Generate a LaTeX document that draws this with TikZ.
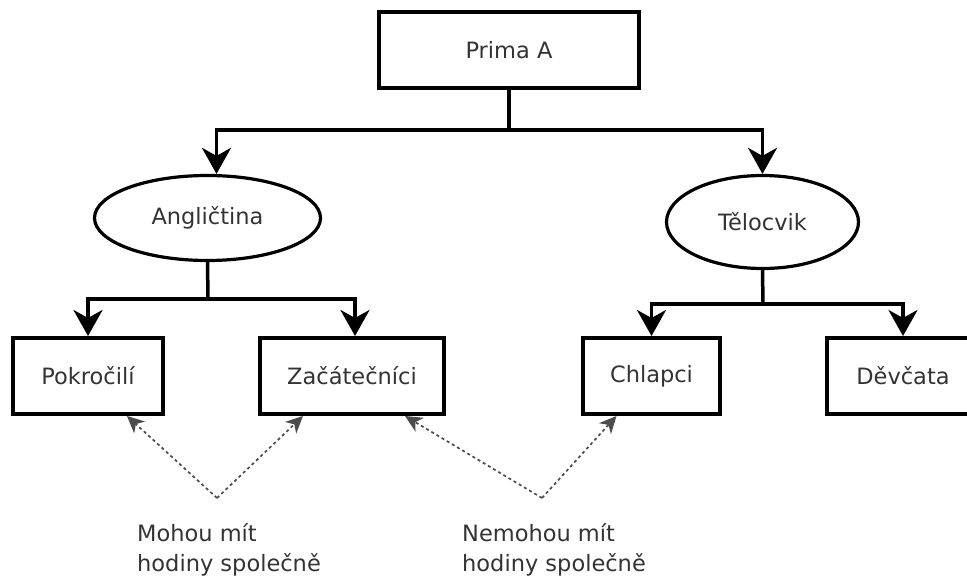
\documentclass[tikz,border=0pt]{standalone}
\usepackage{fontspec}
\setmainfont{DejaVu Sans}
\usetikzlibrary{shapes.geometric,arrows.meta}

\tikzset{
  box/.style={draw, line width=4pt, minimum height=76, inner sep=0pt,
    text=black!80, font=\fontsize{22.5}{27}\selectfont},
  oval/.style={draw, ellipse, line width=3.2pt, inner sep=0pt,
    text=black!80, font=\fontsize{22.5}{27}\selectfont},
  link/.style={line width=3.5pt},
  down/.style={link, -{Stealth[length=26pt, width=29pt, inset=8pt]}},
  hint/.style={black!70, line width=1.7pt, dash pattern=on 3pt off 3pt,
    -{Stealth[length=17pt, width=16pt, inset=5pt]}},
  note/.style={anchor=north west, align=left, inner sep=0pt,
    text=black!80, font=\fontsize{22.5}{30}\selectfont}
}

\begin{document}
\begin{tikzpicture}[x=1pt,y=-1pt]
    \useasboundingbox (0,0) rectangle (967,577);

    % Class
    \node[box, minimum width=260] (prima) at (509,50.5) {Prima A};

    % Subjects
    \node[oval, minimum width=226, minimum height=85] (angl) at (207.5,218) {Angličtina};
    \node[oval, minimum width=192, minimum height=93] (telo) at (762.5,222) {Tělocvik};

    % Groups
    \node[box, minimum width=150] (pokr) at (88,376) {Pokročilí};
    \node[box, minimum width=184] (zac) at (352,376) {Začátečníci};
    \node[box, minimum width=137] (chl) at (651.5,376) {Chlapci};
    \node[box, minimum width=152] (dev) at (903,376) {Děvčata};

    % Tree
    \coordinate (split) at (509,130);
    \draw[link] (prima) -- (split);
    \draw[down] (split) -| ([xshift=9]angl.north);
    \draw[down] (split) -| (telo.north);

    \coordinate (asplit) at (208,299);
    \draw[link] (angl.south) -- (asplit);
    \draw[down] (asplit) -| (pokr.north);
    \draw[down] (asplit) -| ([xshift=3]zac.north);

    \coordinate (tsplit) at (763,304);
    \draw[link] (telo.south) -- (tsplit);
    \draw[down] (tsplit) -| (chl.north);
    \draw[down] (tsplit) -| (dev.north);

    % Notes
    \coordinate (same) at (217,498);
    \draw[hint] (same) -- ([xshift=39]pokr.south);
    \draw[hint] (same) -- ([xshift=-49]zac.south);
    \node[note] (samenote) at (137,523) {Mohou mít\\hodiny společně};

    \coordinate (apart) at (542,498);
    \draw[hint] (apart) -- ([xshift=53]zac.south);
    \draw[hint] (apart) -- ([xshift=-35]chl.south);
    \node[note] (apartnote) at (462,523) {Nemohou mít\\hodiny společně};
\end{tikzpicture}
\end{document}
